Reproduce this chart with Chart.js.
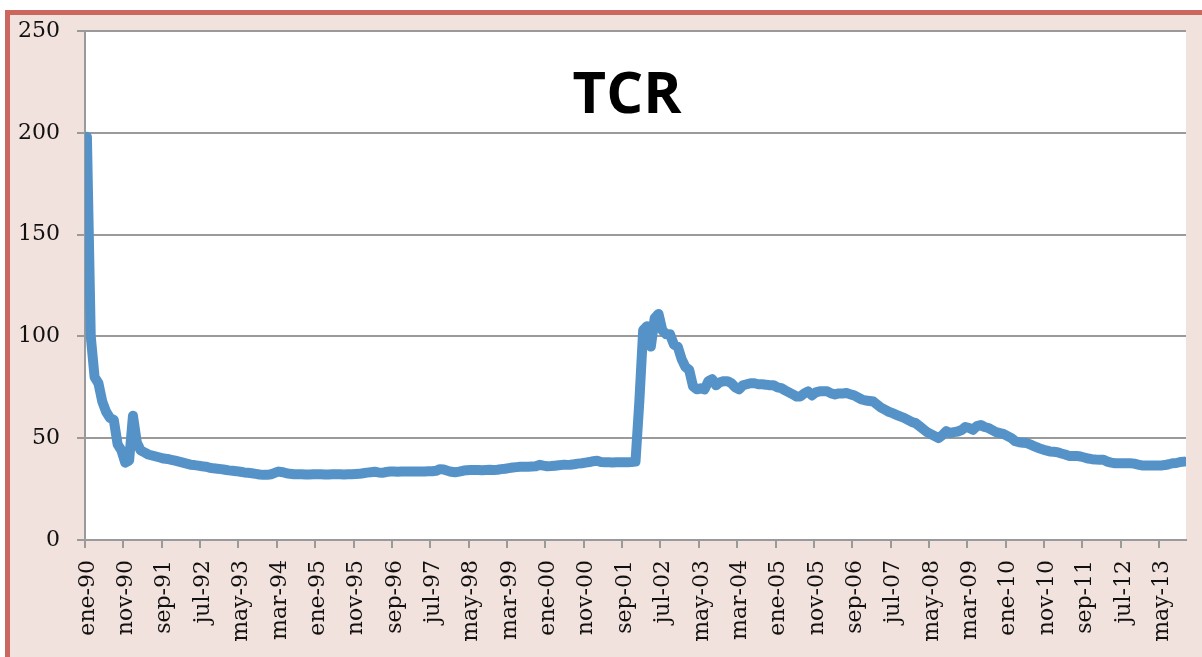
<!DOCTYPE html>
<html>
<head>
<meta charset="utf-8">
<script src="https://cdn.jsdelivr.net/npm/chart.js@4"></script>
<style>
  html, body { margin: 0; padding: 0; background: #fff; width: 1202px; height: 657px; overflow: hidden; }
  #marco { position: absolute; left: 5px; top: 10px; width: 1260px; height: 720px;
           border-top: 5px solid #cb675d; border-left: 5px solid #cb675d; background: #f2e2de; }
  #contenedor { position: absolute; left: 0; top: 0; width: 1202px; height: 657px; }
</style>
</head>
<body>
<div id="marco"></div>
<div id="contenedor"><canvas id="grafico" width="1202" height="657"></canvas></div>
<script>
// etiquetas del eje x (una cada 10 meses, desde ene-90)
const etiquetas = [
  "ene-90", "nov-90", "sep-91", "jul-92", "may-93", "mar-94", "ene-95", "nov-95",
  "sep-96", "jul-97", "may-98", "mar-99", "ene-00", "nov-00", "sep-01", "jul-02",
  "may-03", "mar-04", "ene-05", "nov-05", "sep-06", "jul-07", "may-08", "mar-09",
  "ene-10", "nov-10", "sep-11", "jul-12", "may-13"
];
const pasoEtiqueta = 10;

// TCR mensual, ene-90 a nov-13
const tcr = [
  198, 100, 80, 77, 68, 63, 60, 59, 47, 44, 38, 39,                       // 1990
  61, 48, 44, 43, 42, 41.5, 41, 40.5, 40, 39.8, 39.4, 39,                 // 1991
  38.5, 38, 37.5, 37, 36.8, 36.5, 36.2, 36, 35.5, 35.2, 35, 34.8,         // 1992
  34.5, 34.2, 34, 33.8, 33.5, 33.2, 33, 32.8, 32.5, 32.2, 32, 32,         // 1993
  32.3, 33, 33.6, 33.3, 32.8, 32.5, 32.3, 32.3, 32.3, 32.2, 32.2, 32.3,   // 1994
  32.3, 32.3, 32.2, 32.2, 32.3, 32.3, 32.3, 32.2, 32.3, 32.3, 32.4, 32.5, // 1995
  32.8, 33.1, 33.3, 33.5, 33.2, 33, 33.4, 33.6, 33.6, 33.5, 33.6, 33.6,   // 1996
  33.6, 33.7, 33.6, 33.6, 33.7, 33.8, 33.8, 34, 34.8, 34.6, 34, 33.5,     // 1997
  33.3, 33.6, 34, 34.3, 34.4, 34.4, 34.4, 34.3, 34.4, 34.5, 34.4, 34.5,   // 1998
  34.8, 35, 35.3, 35.6, 35.8, 36, 36, 36, 36.1, 36.2, 36.9, 36.5,         // 1999
  36.2, 36.3, 36.5, 36.7, 36.9, 36.9, 37, 37.2, 37.5, 37.7, 38, 38.3,     // 2000
  38.7, 38.9, 38.3, 38.2, 38.2, 38.1, 38.2, 38.2, 38.2, 38.2, 38.3, 38.5, // 2001
  68, 103, 105, 95, 109, 111, 103, 101, 101, 96, 95, 89,                  // 2002
  85, 83.5, 75.5, 74, 74.5, 74, 78, 79, 76, 77.5, 78, 78,                 // 2003
  77, 75, 74, 76, 76.5, 77, 77, 76.5, 76.5, 76.3, 76, 76,                 // 2004
  75, 74.6, 73.5, 72.5, 71.5, 70.5, 70.5, 72, 73, 71, 72.5, 73,           // 2005
  73, 73, 72, 71.5, 72, 72, 72.2, 71.5, 71, 70, 69, 68.5,                 // 2006
  68.3, 68, 66.5, 65, 64, 63, 62.3, 61.5, 60.7, 60, 59, 58,               // 2007
  57.4, 56, 54.5, 53, 52, 51, 50, 51.5, 53.5, 52.5, 53, 53.3,             // 2008
  54, 55.5, 55, 54.1, 56, 56.5, 55.5, 55, 54, 53, 52.5, 52,               // 2009
  51, 50, 48.5, 48, 47.8, 47.6, 46.8, 46, 45.2, 44.6, 44, 43.5,           // 2010
  43.3, 43.1, 42.5, 42, 41.3, 41.3, 41.3, 41, 40.5, 40, 39.7, 39.5,       // 2011
  39.4, 39.4, 38.5, 38, 37.7, 37.7, 37.7, 37.7, 37.7, 37.5, 37, 36.6,     // 2012
  36.6, 36.6, 36.6, 36.6, 36.6, 36.8, 37.2, 37.7, 37.8, 38.3, 38.5        // 2013
];

const gris = "#9a9a9a";
const fuenteEjes = { family: "'DejaVu Serif', serif", size: 22 };

// fondo blanco del area de trazado + titulo
const fondoYTitulo = {
  id: "fondoYTitulo",
  beforeDraw(chart) {
    const { ctx, chartArea } = chart;
    ctx.save();
    ctx.fillStyle = "#ffffff";
    ctx.fillRect(chartArea.left, chartArea.top, chartArea.right - chartArea.left, chartArea.bottom - chartArea.top);
    ctx.restore();
  },
  afterDraw(chart) {
    const ctx = chart.ctx;
    ctx.save();
    ctx.fillStyle = "#000";
    ctx.font = "bold 58px 'Open Sans', sans-serif";
    ctx.textAlign = "center";
    ctx.textBaseline = "alphabetic";
    ctx.fillText("TCR", 627, 113);
    ctx.restore();
  }
};

new Chart(document.getElementById("grafico"), {
  type: "line",
  data: {
    datasets: [{
      label: "TCR",
      data: tcr.map((v, i) => ({ x: i + 0.5, y: v })),
      borderColor: "#5592c8",
      borderWidth: 10,
      pointRadius: 0,
      tension: 0,
      borderJoinStyle: "round",
      borderCapStyle: "round"
    }]
  },
  options: {
    responsive: false,
    animation: false,
    layout: { padding: { top: 31, right: 16, left: 0, bottom: 0 } },
    plugins: { legend: { display: false }, tooltip: { enabled: false } },
    scales: {
      x: {
        type: "linear",
        min: 0,
        max: tcr.length,
        afterBuildTicks: (scale) => {
          scale.ticks = etiquetas.map((_, k) => ({ value: k * pasoEtiqueta }));
        },
        afterFit: (scale) => { scale.height = 117; },
        ticks: {
          autoSkip: false,
          minRotation: 90,
          maxRotation: 90,
          padding: 12,
          labelOffset: 3,
          color: "#111",
          font: fuenteEjes,
          callback: (v) => etiquetas[Math.round(v / pasoEtiqueta)]
        },
        grid: { drawOnChartArea: false, color: gris, lineWidth: 2, tickLength: 8 },
        border: { color: gris, width: 2 }
      },
      y: {
        min: 0,
        max: 250,
        afterFit: (scale) => { scale.width = 85; },
        ticks: { stepSize: 50, padding: 17, color: "#111", font: fuenteEjes },
        grid: { color: gris, lineWidth: 2, tickLength: 8 },
        border: { color: gris, width: 2 }
      }
    }
  },
  plugins: [fondoYTitulo]
});
</script>
</body>
</html>
